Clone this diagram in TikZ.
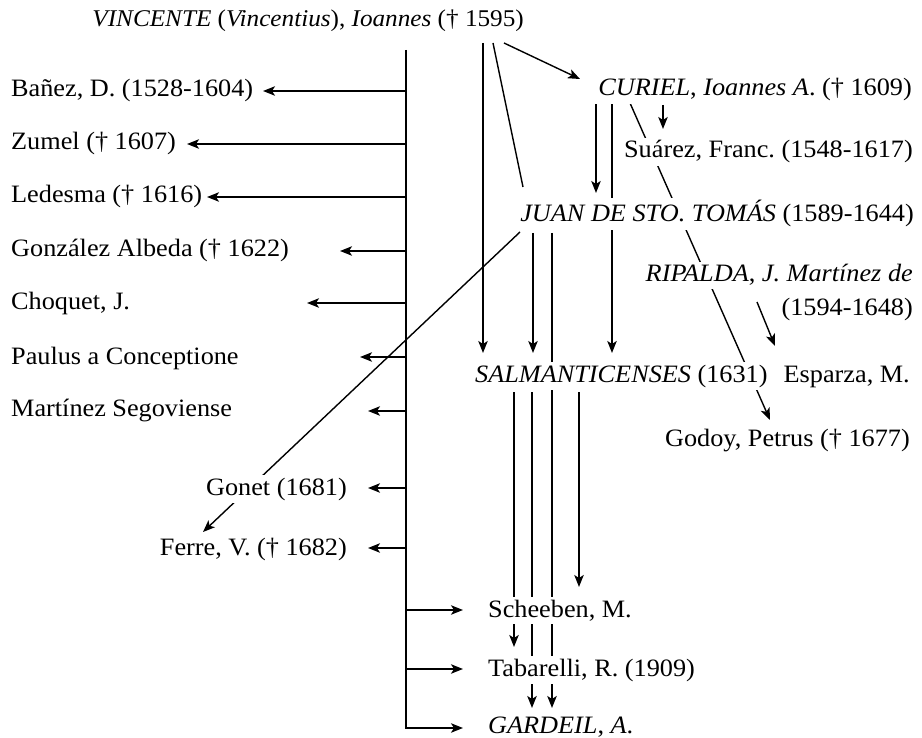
\documentclass[tikz,border=0pt]{standalone}
\usepackage{fontspec}
\setmainfont{Liberation Serif}[FakeStretch=1.05]
\usetikzlibrary{arrows.meta}
\pgfdeclarelayer{bg}
\pgfsetlayers{bg,main}
\frenchspacing
\begin{document}
\begin{tikzpicture}[x=1pt,y=-1pt,
  lbl/.style={inner sep=3pt, fill=white, font=\fontsize{25}{29}\selectfont},
  lw/.style={lbl, anchor=base west},
  le/.style={lbl, anchor=base east},
  con/.style={line width=1.4pt},
  arr/.style={con, -{Stealth[length=12pt,width=9.5pt,inset=3pt]}}]
\useasboundingbox (0,0) rectangle (922,738);
% text nodes
\node[le, font=\fontsize{24}{28}\selectfont] (vinc) at (527,27) {\textit{VINCENTE} (\textit{Vincentius}), \textit{Ioannes} († 1595)};
\node[le] (curiel) at (915,96) {\textit{CURIEL}, \textit{Ioannes A}. († 1609)};
\node[le] (suarez) at (916,158) {Suárez, Franc. (1548-1617)};
\node[le] (juan) at (917,222) {\textit{JUAN DE STO. TOMÁS} (1589-1644)};
\node[le] (rip1) at (916,282) {\textit{RIPALDA}, \textit{J. Martínez de}};
\node[le] (rip2) at (916,316) {(1594-1648)};
\node[lw] (salm) at (472,382) {\textit{SALMANTICENSES} (1631)};
\node[le] (esparza) at (913,382) {Esparza, M.};
\node[le] (godoy) at (913,446) {Godoy, Petrus († 1677)};
\node[lw] (banez) at (8,97) {Bañez, D. (1528-1604)};
\node[lw] (zumel) at (8,150) {Zumel († 1607)};
\node[lw] (ledesma) at (8,203) {Ledesma († 1616)};
\node[lw] (gonzalez) at (8,257) {González Albeda († 1622)};
\node[lw] (choquet) at (8,310) {Choquet, J.};
\node[lw] (paulus) at (8,364) {Paulus a Conceptione};
\node[lw] (martinez) at (8,417) {Martínez Segoviense};
\node[le] (gonet) at (350,495) {Gonet (1681)};
\node[le] (ferre) at (350,555) {Ferre, V. († 1682)};
\node[lw] (scheeben) at (485,617) {Scheeben, M.};
\node[lw] (tabarelli) at (485,676) {Tabarelli, R. (1909)};
\node[lw] (gardeil) at (485,733) {\textit{GARDEIL}, \textit{A}.};
% coordinates on the trunk
\coordinate (ttop) at (406,50);
\coordinate (tbot) at (406,728);
\begin{pgfonlayer}{bg}
% trunk and side arrows
\draw[arr] (ttop) -- (tbot) -- (463,728);
\draw[arr] (406,91) -- (263,91);
\draw[arr] (406,144) -- (187,144);
\draw[arr] (406,197) -- (207,197);
\draw[arr] (406,251) -- (340,251);
\draw[arr] (406,303) -- (307,303);
\draw[arr] (406,357) -- (360,357);
\draw[arr] (406,411) -- (368,411);
\draw[arr] (406,488) -- (368,488);
\draw[arr] (406,548) -- (368,548);
\draw[arr] (406,610) -- (463,610);
\draw[arr] (406,669) -- (463,669);
% from VINCENTE
\draw[arr] (483,43) -- (483,353);
\draw[con] (493,43) -- (523,187);
\draw[arr] (504,43) -- (580,79);
% from CURIEL
\draw[arr] (596,103) -- (596,193);
\draw[arr] (612,103) -- (612,353);
\draw[arr] (630,103) -- (770,420);
\draw[arr] (663,105) -- (663,129);
% from JUAN
\draw[arr] (520,232) -- (203,532);
\draw[arr] (533,233) -- (533,353);
\draw[arr] (552,233) -- (552,708);
% from RIPALDA
\draw[arr] (757,302) -- (775,346);
% from SALMANTICENSES
\draw[arr] (514,392) -- (514,647);
\draw[arr] (532,392) -- (532,708);
\draw[arr] (579,392) -- (579,587);
\end{pgfonlayer}
\end{tikzpicture}
\end{document}
